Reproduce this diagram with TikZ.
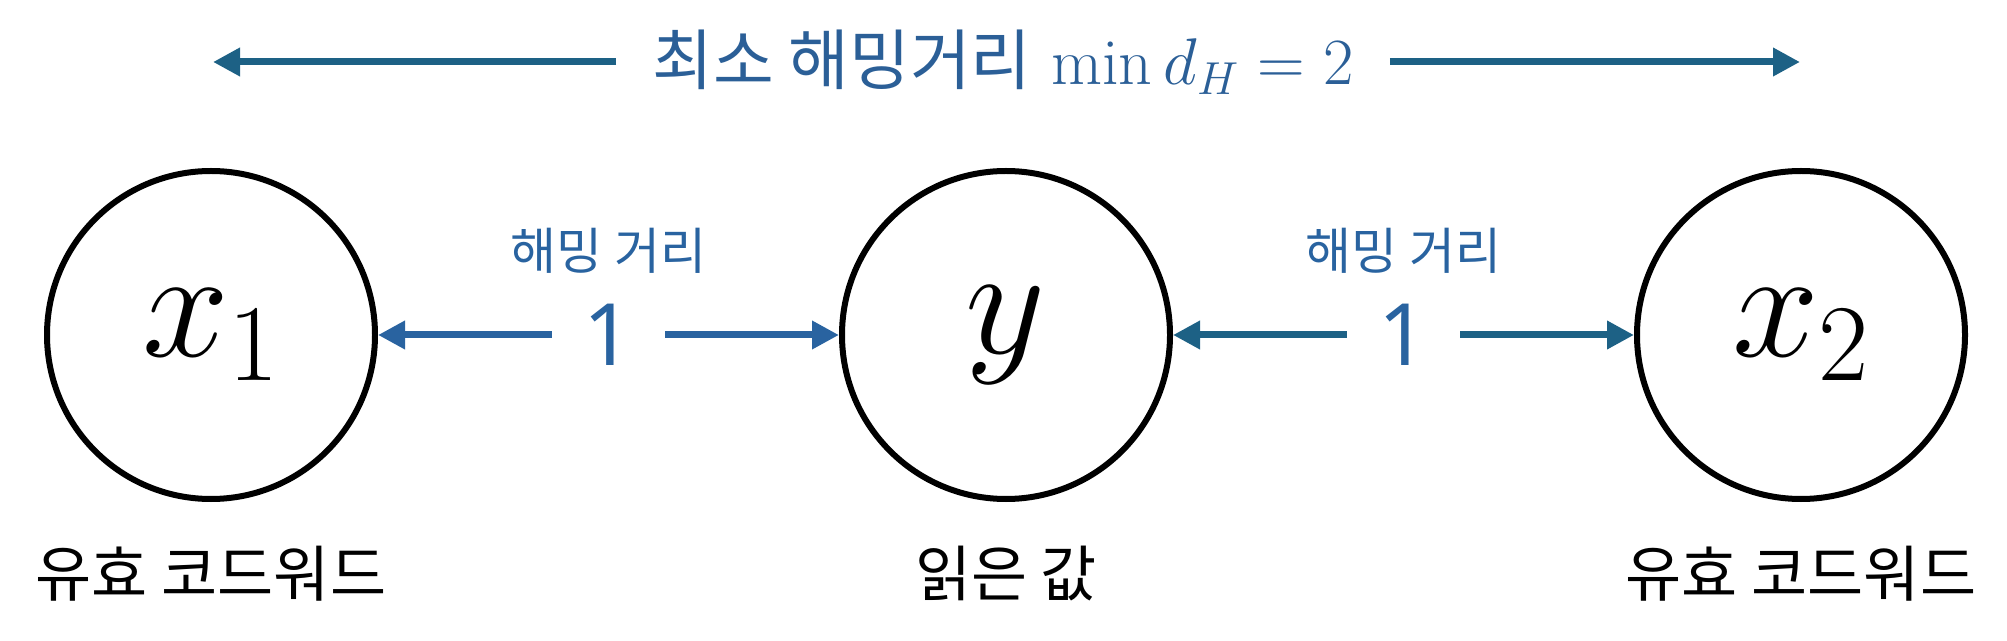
\documentclass[tikz,border=0pt]{standalone}
\usepackage{fix-cm}
\usepackage{fontspec}
\usetikzlibrary{arrows.meta}

\newfontfamily\kor{Noto Sans CJK KR}
\newfontfamily\numfont{Noto Sans}

\definecolor{hamblue}{RGB}{41,99,160}
\definecolor{hamteal}{RGB}{29,97,133}
\definecolor{titleblue}{RGB}{43,95,151}

\tikzset{%
  word/.style={
    circle,
    draw,
    line width=3pt,
    minimum size=164pt,
    inner sep=0pt,
    font=\fontsize{78}{92}\selectfont
  },
  tag/.style={
    font=\kor\fontsize{30.5}{36}\selectfont
  },
  hamming/.style={
    text=hamblue,
    font=\kor\fontsize{25}{30}\selectfont
  },
  dist/.style={
    fill=white,
    text=hamblue,
    inner xsep=16pt,
    inner ysep=0pt,
    font=\numfont\fontsize{43}{50}\selectfont
  },
  link/.style={
    <->,
    line width=3.5pt
  },
  title/.style={
    text=titleblue,
    inner xsep=18pt,
    font=\kor\fontsize{33}{40}\selectfont
  },
}

\begin{document}
\begin{tikzpicture}[x=0.5pt, y=-0.5pt, >={Triangle[length=13.5pt, width=13.5pt]}]
    \useasboundingbox (0,0) rectangle (2007,641);

    \foreach \n/\m/\x in {x1/x_1/211, y/y/1006, x2/x_2/1801}
      \node [word] (\n) at (\x,335) {$\m$};

    \foreach \n/\t/\x in {x1/유효 코드워드/211, y/읽은 값/1006, x2/유효 코드워드/1801}
      \node [tag] (\n-tag) at (\x,574) {\t};

    \draw [link, hamblue] (x1) -- node [dist] (d1) {1} (y);
    \draw [link, hamteal] (y) -- node [dist] (d2) {1} (x2);

    \foreach \d in {d1,d2}
      \node [hamming] (\d-label) at ([yshift=42pt]\d) {해밍 거리};

    % minimum distance across the two codewords
    \node [title] (title) at (1003,62) {최소 해밍거리\hspace{0.3em}$\min d_H = 2$};
    \coordinate (title-left) at (213,62);
    \coordinate (title-right) at (1800,62);

    \draw [->, line width=3.5pt, hamteal] (title) -- (title-left);
    \draw [->, line width=3.5pt, hamteal] (title) -- (title-right);

\end{tikzpicture}
\end{document}
